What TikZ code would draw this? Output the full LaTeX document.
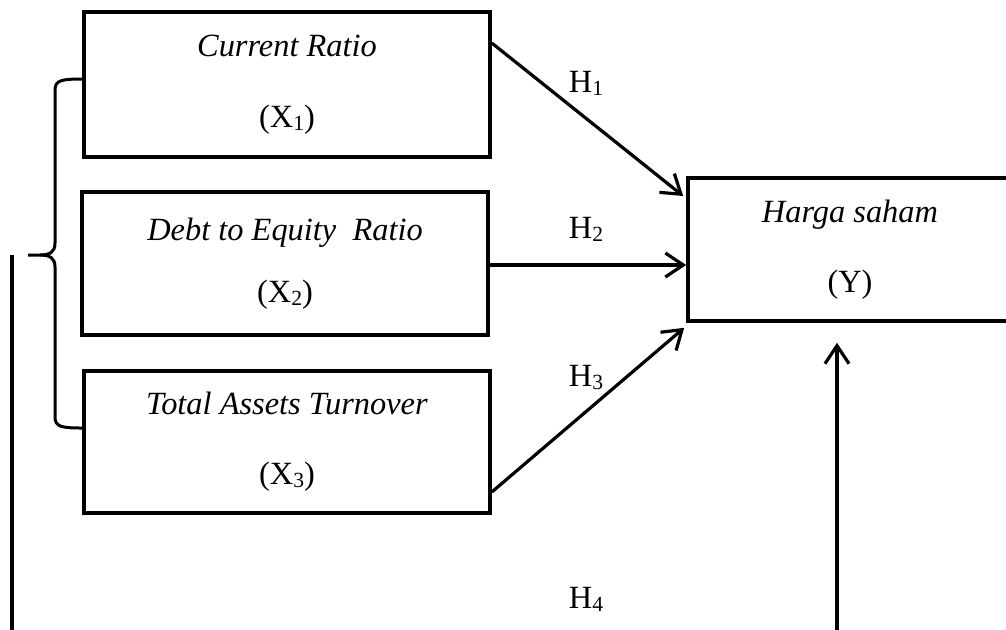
\documentclass[tikz,border=0pt]{standalone}
\usepackage{fontspec}
\setmainfont{Liberation Serif}
\usetikzlibrary{arrows.meta}
\newcommand\subn[1]{\raisebox{-0.2ex}{\fontsize{10.8}{12}\selectfont #1}}
\begin{document}
\begin{tikzpicture}[x=0.5pt,y=-0.5pt,
  varbox/.style={draw, line width=1.8pt, rectangle, align=center, inner sep=0pt},
  link/.style={line width=1.6pt, -{Straight Barb[length=9pt,width=12pt]}},
  hlabel/.style={font=\fontsize{16.2}{18}\selectfont, inner sep=0pt},
  bracket/.style={line width=1.5pt}]
\useasboundingbox (0,0) rectangle (1006,629);
\clip (0,0) rectangle (1006,629);
\node[varbox, minimum width=203pt, minimum height=72.5pt, font=\fontsize{16.2}{35.5}\selectfont] (X1) at (287,84.5) {\textit{Current Ratio}\\(X\subn{1})};
\node[varbox, minimum width=203pt, minimum height=71.5pt, font=\fontsize{16.2}{31}\selectfont] (X2) at (285,263.5) {\textit{Debt to Equity\ \ Ratio}\\(X\subn{2})};
\node[varbox, minimum width=203pt, minimum height=71pt, font=\fontsize{16.2}{35}\selectfont] (X3) at (287,442) {\textit{Total Assets Turnover}\\(X\subn{3})};
\node[varbox, minimum width=162pt, minimum height=71.5pt, font=\fontsize{16.2}{35}\selectfont] (Y) at (850,249.5) {\textit{Harga saham}\\(Y)};
\draw[link] ([yshift=20.75pt]X1.east) -- ([xshift=-1.5pt,yshift=26.75pt]Y.west);
\draw[link] ([yshift=-0.75pt]X2.east) -- ([yshift=-0.75pt]X2.east -| Y.west);
\draw[link] ([yshift=-25pt]X3.east) -- ([xshift=-1pt,yshift=-2.5pt]Y.south west);
\coordinate (b4) at (837,640);
\coordinate (ytip) at ([yshift=-10pt]Y.south);
\draw[link] (b4) -- (b4 |- ytip);
\coordinate (lt) at (12,255);
\coordinate (lb) at (12,640);
\draw[line width=1.6pt] (lt) -- (lb);
\draw[bracket] (83,79) .. controls (62,79) and (55,80) .. (55,90) -- (55,243) .. controls (55,252) and (50,255) .. (40,255) -- (28,255);
\draw[bracket] (40,255) .. controls (50,255) and (55,258) .. (55,267) -- (55,417) .. controls (55,427) and (62,428) .. (83,428);
\node[hlabel] (h1) at (586,83) {H\subn{1}};
\node[hlabel] (h2) at (586,229) {H\subn{2}};
\node[hlabel] (h3) at (586,377) {H\subn{3}};
\node[hlabel] (h4) at (586,599) {H\subn{4}};
\end{tikzpicture}
\end{document}
